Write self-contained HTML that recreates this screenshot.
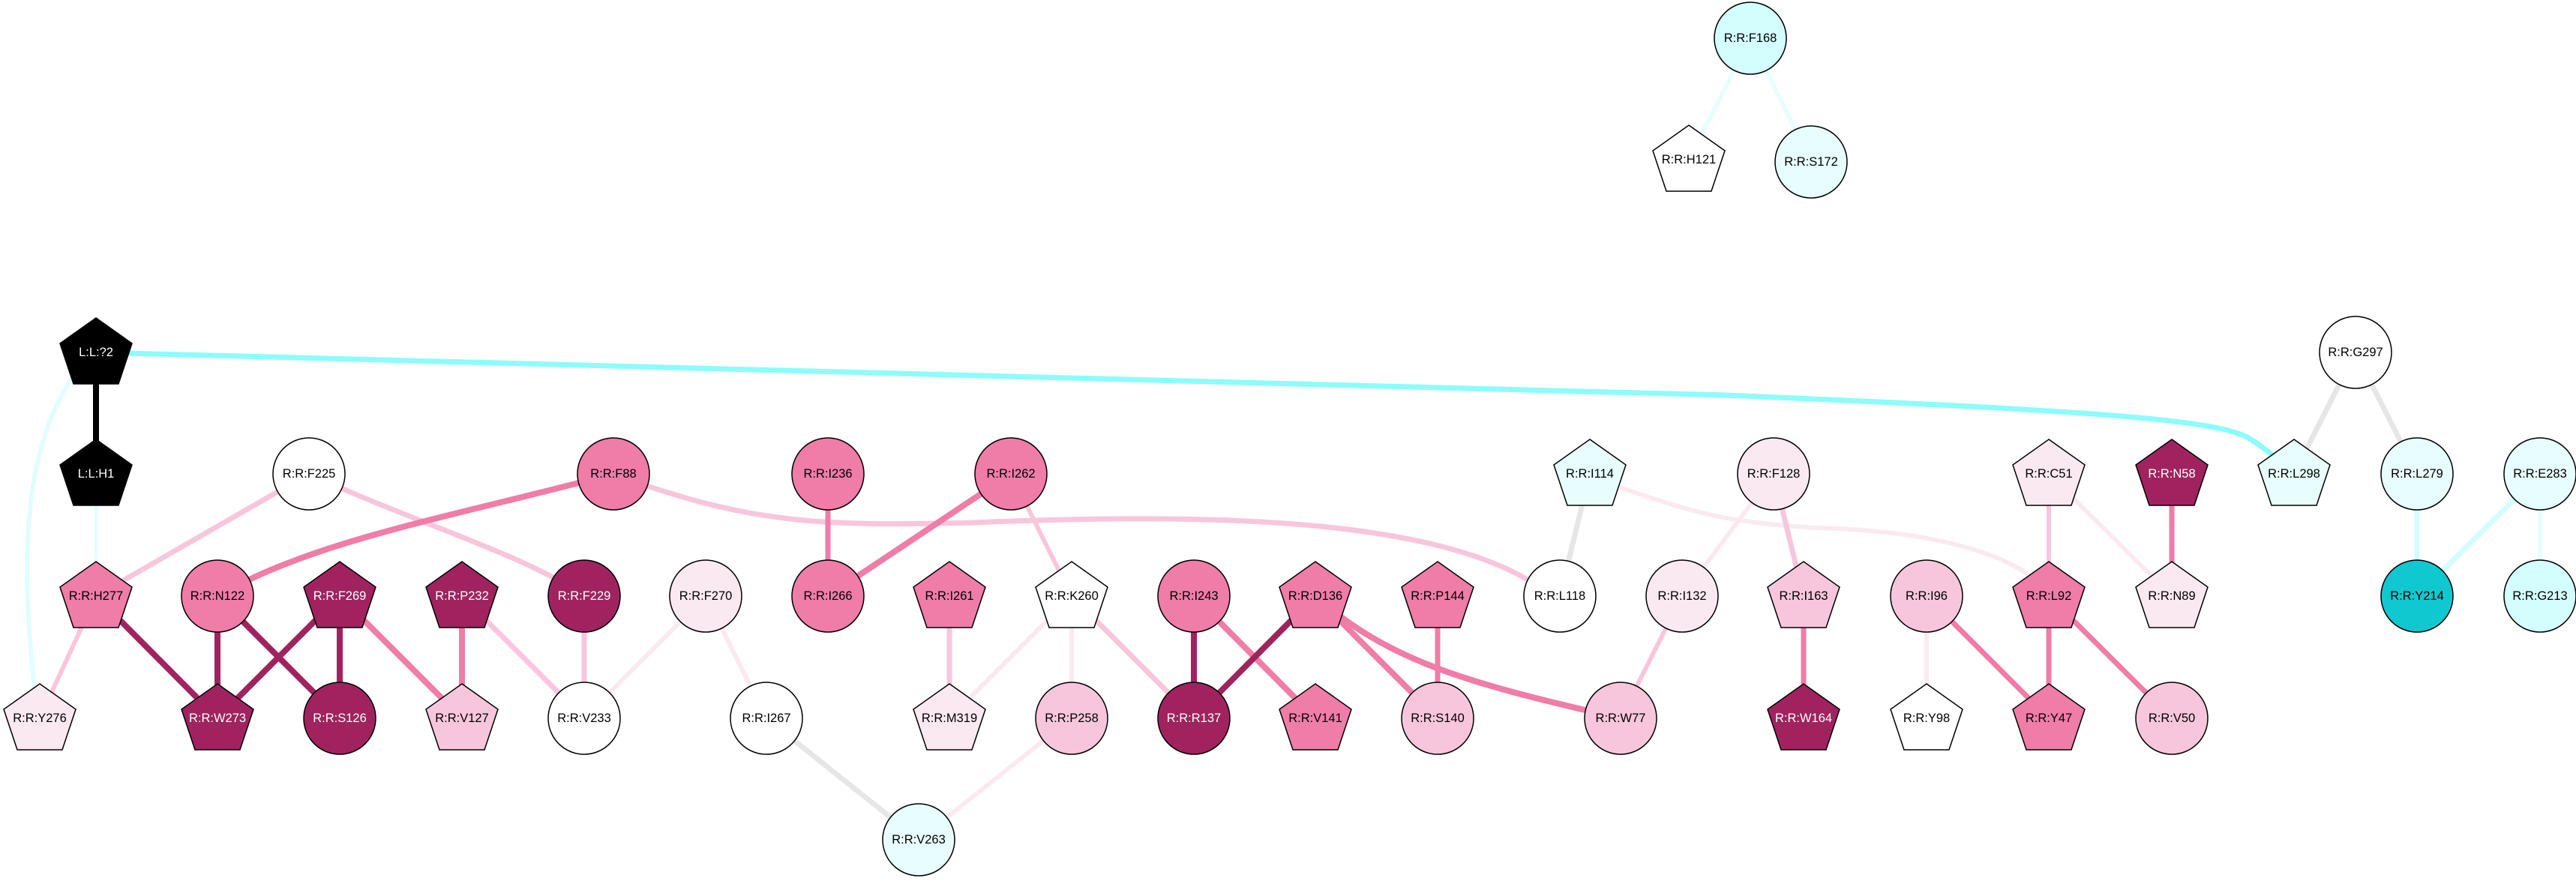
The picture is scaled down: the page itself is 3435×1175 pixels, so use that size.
<!DOCTYPE html>
<html><head><meta charset="utf-8"><style>
html,body{margin:0;padding:0;background:#fff;}
svg{display:block;}
text{font-family:"Liberation Sans",Arial,sans-serif;font-size:16.5px;text-anchor:middle;dominant-baseline:central;}
</style></head><body>
<svg width="3435" height="1175" viewBox="0 0 3435 1175" xmlns="http://www.w3.org/2000/svg">
<defs>
<polygon id="pent" points="0,-46 48,-12 30,42 -30,42 -48,-12" stroke="#000" stroke-width="1.5"/>
</defs>
<g fill="none" stroke-linecap="butt">
<!-- long curves -->
<path d="M128,470 L2300,527 C2800,548 2960,560 3000,585 C3020,598 3035,610 3045,620" stroke="#8cfcfc" stroke-width="7"/>
<path d="M95,505 C40,590 20,720 50,950" stroke="#e2fdfd" stroke-width="6"/>
<path d="M818,632 C1000,700 1100,702 1300,697 C1600,684 1900,690 2040,775" stroke="#f8c6dc" stroke-width="7"/>
<path d="M2160,650 C2250,680 2300,700 2450,705 C2600,712 2680,745 2712,772" stroke="#fbe9f1" stroke-width="6"/>
<path d="M412,632 C560,700 700,740 779,795" stroke="#f8c6dc" stroke-width="7"/>
<path d="M818,632 C600,690 420,720 290,795" stroke="#f07ca8" stroke-width="8"/>
<!-- straight edges -->
<line x1="128" y1="470" x2="128" y2="632" stroke="#000" stroke-width="8"/>
<line x1="128" y1="632" x2="128" y2="795" stroke="#e2fdfd" stroke-width="4"/>
<line x1="412" y1="632" x2="128" y2="795" stroke="#f8c6dc" stroke-width="7"/>
<line x1="1104" y1="632" x2="1104" y2="795" stroke="#f07ca8" stroke-width="7"/>
<line x1="1348" y1="632" x2="1104" y2="795" stroke="#f07ca8" stroke-width="8"/>
<line x1="1348" y1="632" x2="1429" y2="795" stroke="#f8c6dc" stroke-width="6"/>
<line x1="128" y1="795" x2="53" y2="958" stroke="#f8c6dc" stroke-width="6"/>
<line x1="128" y1="795" x2="290" y2="958" stroke="#a0235f" stroke-width="8"/>
<line x1="290" y1="795" x2="290" y2="958" stroke="#a0235f" stroke-width="8"/>
<line x1="290" y1="795" x2="453" y2="958" stroke="#a0235f" stroke-width="8"/>
<line x1="453" y1="795" x2="290" y2="958" stroke="#a0235f" stroke-width="8"/>
<line x1="453" y1="795" x2="453" y2="958" stroke="#a0235f" stroke-width="8"/>
<line x1="453" y1="795" x2="616" y2="958" stroke="#f07ca8" stroke-width="8"/>
<line x1="616" y1="795" x2="616" y2="958" stroke="#f07ca8" stroke-width="8"/>
<line x1="616" y1="795" x2="779" y2="958" stroke="#f8c6dc" stroke-width="7"/>
<line x1="779" y1="795" x2="779" y2="958" stroke="#f8c6dc" stroke-width="7"/>
<line x1="941" y1="795" x2="779" y2="958" stroke="#fbe9f1" stroke-width="6"/>
<line x1="941" y1="795" x2="1022" y2="958" stroke="#fbe9f1" stroke-width="6"/>
<line x1="1022" y1="958" x2="1225" y2="1120" stroke="#e6e6e6" stroke-width="7"/>
<line x1="1266" y1="795" x2="1266" y2="958" stroke="#f8c6dc" stroke-width="7"/>
<line x1="1429" y1="795" x2="1266" y2="958" stroke="#fbe9f1" stroke-width="6"/>
<line x1="1429" y1="795" x2="1429" y2="958" stroke="#fbe9f1" stroke-width="6"/>
<line x1="1429" y1="795" x2="1592" y2="958" stroke="#f8c6dc" stroke-width="7"/>
<line x1="1429" y1="958" x2="1225" y2="1120" stroke="#fbe9f1" stroke-width="6"/>
<line x1="1592" y1="795" x2="1592" y2="958" stroke="#a0235f" stroke-width="8"/>
<line x1="1592" y1="795" x2="1754" y2="958" stroke="#f07ca8" stroke-width="8"/>
<line x1="1754" y1="795" x2="1592" y2="958" stroke="#a0235f" stroke-width="8"/>
<line x1="1754" y1="795" x2="1917" y2="958" stroke="#f07ca8" stroke-width="8"/>
<path d="M1754,795 C1850,880 1950,910 2161,958" stroke="#f07ca8" stroke-width="8"/>
<line x1="1917" y1="795" x2="1917" y2="958" stroke="#f07ca8" stroke-width="7"/>
<line x1="2120" y1="632" x2="2080" y2="795" stroke="#e6e6e6" stroke-width="7"/>
<line x1="2243" y1="795" x2="2161" y2="958" stroke="#f8c6dc" stroke-width="6"/>
<line x1="2365" y1="632" x2="2243" y2="795" stroke="#fbe9f1" stroke-width="6"/>
<line x1="2365" y1="632" x2="2405" y2="795" stroke="#f8c6dc" stroke-width="7"/>
<line x1="2405" y1="795" x2="2405" y2="958" stroke="#f07ca8" stroke-width="7"/>
<line x1="2569" y1="795" x2="2569" y2="958" stroke="#fbe9f1" stroke-width="6"/>
<line x1="2569" y1="795" x2="2732" y2="958" stroke="#f07ca8" stroke-width="7"/>
<line x1="2732" y1="795" x2="2732" y2="958" stroke="#f07ca8" stroke-width="7"/>
<line x1="2732" y1="795" x2="2896" y2="958" stroke="#f07ca8" stroke-width="7"/>
<line x1="2732" y1="632" x2="2732" y2="795" stroke="#f8c6dc" stroke-width="6"/>
<line x1="2732" y1="632" x2="2896" y2="795" stroke="#fbe9f1" stroke-width="6"/>
<line x1="2896" y1="632" x2="2896" y2="795" stroke="#f07ca8" stroke-width="7"/>
<line x1="3141" y1="470" x2="3059" y2="632" stroke="#e6e6e6" stroke-width="7"/>
<line x1="3141" y1="470" x2="3223" y2="632" stroke="#e6e6e6" stroke-width="7"/>
<line x1="3223" y1="632" x2="3223" y2="795" stroke="#d4fdfd" stroke-width="7"/>
<line x1="3387" y1="632" x2="3223" y2="795" stroke="#d4fdfd" stroke-width="7"/>
<line x1="3387" y1="632" x2="3387" y2="795" stroke="#e8fdfd" stroke-width="6"/>
<line x1="2334" y1="51" x2="2252" y2="213" stroke="#e8fdfd" stroke-width="6"/>
<line x1="2334" y1="51" x2="2415" y2="216" stroke="#e8fdfd" stroke-width="6"/>
</g>
<!-- nodes -->
<g stroke="#000" stroke-width="1.5">
<use href="#pent" x="128" y="470" fill="#000"/>
<use href="#pent" x="128" y="632" fill="#000"/>
<circle cx="412" cy="632" r="48" fill="#fff"/>
<circle cx="818" cy="632" r="48" fill="#f07ca8"/>
<circle cx="1104" cy="632" r="48" fill="#f07ca8"/>
<circle cx="1348" cy="632" r="48" fill="#f07ca8"/>
<use href="#pent" x="2120" y="632" fill="#e8fdfd"/>
<circle cx="2365" cy="632" r="48" fill="#fbe9f1"/>
<use href="#pent" x="2732" y="632" fill="#fbe9f1"/>
<use href="#pent" x="2896" y="632" fill="#a0235f"/>
<use href="#pent" x="3059" y="632" fill="#e8fdfd"/>
<circle cx="3223" cy="632" r="48" fill="#e8fdfd"/>
<circle cx="3387" cy="632" r="48" fill="#e8fdfd"/>
<circle cx="3141" cy="470" r="48" fill="#fff"/>
<circle cx="2334" cy="51" r="48" fill="#d4fdfd"/>
<use href="#pent" x="2252" y="213" fill="#fff"/>
<circle cx="2415" cy="216" r="48" fill="#e8fdfd"/>

<use href="#pent" x="128" y="795" fill="#f07ca8"/>
<circle cx="290" cy="795" r="48" fill="#f07ca8"/>
<use href="#pent" x="453" y="795" fill="#a0235f"/>
<use href="#pent" x="616" y="795" fill="#a0235f"/>
<circle cx="779" cy="795" r="48" fill="#a0235f"/>
<circle cx="941" cy="795" r="48" fill="#fbe9f1"/>
<circle cx="1104" cy="795" r="48" fill="#f07ca8"/>
<use href="#pent" x="1266" y="795" fill="#f07ca8"/>
<use href="#pent" x="1429" y="795" fill="#fff"/>
<circle cx="1592" cy="795" r="48" fill="#f07ca8"/>
<use href="#pent" x="1754" y="795" fill="#f07ca8"/>
<use href="#pent" x="1917" y="795" fill="#f07ca8"/>
<circle cx="2080" cy="795" r="48" fill="#fff"/>
<circle cx="2243" cy="795" r="48" fill="#fbe9f1"/>
<use href="#pent" x="2405" y="795" fill="#f8c6dc"/>
<circle cx="2569" cy="795" r="48" fill="#f8c6dc"/>
<use href="#pent" x="2732" y="795" fill="#f07ca8"/>
<use href="#pent" x="2896" y="795" fill="#fbe9f1"/>
<circle cx="3223" cy="795" r="48" fill="#10c8d0"/>
<circle cx="3387" cy="795" r="48" fill="#d4fdfd"/>

<use href="#pent" x="53" y="958" fill="#fbe9f1"/>
<use href="#pent" x="290" y="958" fill="#a0235f"/>
<circle cx="453" cy="958" r="48" fill="#a0235f"/>
<use href="#pent" x="616" y="958" fill="#f8c6dc"/>
<circle cx="779" cy="958" r="48" fill="#fff"/>
<circle cx="1022" cy="958" r="48" fill="#fff"/>
<use href="#pent" x="1266" y="958" fill="#fbe9f1"/>
<circle cx="1429" cy="958" r="48" fill="#f8c6dc"/>
<circle cx="1592" cy="958" r="48" fill="#a0235f"/>
<use href="#pent" x="1754" y="958" fill="#f07ca8"/>
<circle cx="1917" cy="958" r="48" fill="#f8c6dc"/>
<circle cx="2161" cy="958" r="48" fill="#f8c6dc"/>
<use href="#pent" x="2405" y="958" fill="#a0235f"/>
<use href="#pent" x="2569" y="958" fill="#fff"/>
<use href="#pent" x="2732" y="958" fill="#f07ca8"/>
<circle cx="2896" cy="958" r="48" fill="#f8c6dc"/>
<circle cx="1225" cy="1120" r="48" fill="#e8fdfd"/>
</g>
<g fill="#000">
<text x="128" y="470" fill="#fff">L:L:?2</text>
<text x="128" y="632" fill="#fff">L:L:H1</text>
<text x="412" y="632">R:R:F225</text>
<text x="818" y="632">R:R:F88</text>
<text x="1104" y="632">R:R:I236</text>
<text x="1348" y="632">R:R:I262</text>
<text x="2120" y="632">R:R:I114</text>
<text x="2365" y="632">R:R:F128</text>
<text x="2732" y="632">R:R:C51</text>
<text x="2896" y="632" fill="#fff">R:R:N58</text>
<text x="3059" y="632">R:R:L298</text>
<text x="3223" y="632">R:R:L279</text>
<text x="3387" y="632">R:R:E283</text>
<text x="3141" y="470">R:R:G297</text>
<text x="2334" y="51">R:R:F168</text>
<text x="2252" y="213">R:R:H121</text>
<text x="2415" y="216">R:R:S172</text>
<text x="128" y="795">R:R:H277</text>
<text x="290" y="795">R:R:N122</text>
<text x="453" y="795" fill="#fff">R:R:F269</text>
<text x="616" y="795" fill="#fff">R:R:P232</text>
<text x="779" y="795" fill="#fff">R:R:F229</text>
<text x="941" y="795">R:R:F270</text>
<text x="1104" y="795">R:R:I266</text>
<text x="1266" y="795">R:R:I261</text>
<text x="1429" y="795">R:R:K260</text>
<text x="1592" y="795">R:R:I243</text>
<text x="1754" y="795">R:R:D136</text>
<text x="1917" y="795">R:R:P144</text>
<text x="2080" y="795">R:R:L118</text>
<text x="2243" y="795">R:R:I132</text>
<text x="2405" y="795">R:R:I163</text>
<text x="2569" y="795">R:R:I96</text>
<text x="2732" y="795">R:R:L92</text>
<text x="2896" y="795">R:R:N89</text>
<text x="3223" y="795">R:R:Y214</text>
<text x="3387" y="795">R:R:G213</text>
<text x="53" y="958">R:R:Y276</text>
<text x="290" y="958" fill="#fff">R:R:W273</text>
<text x="453" y="958" fill="#fff">R:R:S126</text>
<text x="616" y="958">R:R:V127</text>
<text x="779" y="958">R:R:V233</text>
<text x="1022" y="958">R:R:I267</text>
<text x="1266" y="958">R:R:M319</text>
<text x="1429" y="958">R:R:P258</text>
<text x="1592" y="958" fill="#fff">R:R:R137</text>
<text x="1754" y="958">R:R:V141</text>
<text x="1917" y="958">R:R:S140</text>
<text x="2161" y="958">R:R:W77</text>
<text x="2405" y="958" fill="#fff">R:R:W164</text>
<text x="2569" y="958">R:R:Y98</text>
<text x="2732" y="958">R:R:Y47</text>
<text x="2896" y="958">R:R:V50</text>
<text x="1225" y="1120">R:R:V263</text>
</g>
</svg>
</body></html>
